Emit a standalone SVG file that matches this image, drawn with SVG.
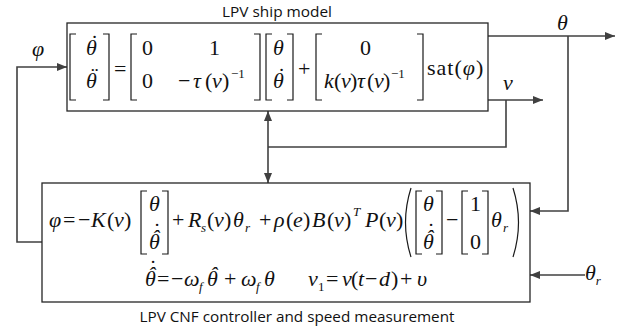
<svg xmlns="http://www.w3.org/2000/svg" width="628" height="333" viewBox="0 0 628 333">
<defs>
<style>
.box{fill:#fff;stroke:#262626;stroke-width:1.3}
.wire{fill:none;stroke:#404040;stroke-width:1.6}
.br{fill:none;stroke:#1a1a1a;stroke-width:1.2}
.m{font-family:"Liberation Serif","Times New Roman",serif;font-size:22px;fill:#111}
.i{font-style:italic}
.s{font-size:13px}
.cap{font-family:"Open Sans","Liberation Sans",sans-serif;font-size:14.5px;fill:#111;text-anchor:middle}
</style>
<marker id="ah" viewBox="0 0 10 8" refX="10" refY="4" markerWidth="10" markerHeight="8" markerUnits="userSpaceOnUse" orient="auto">
<path d="M0,0 L10,4 L0,8 z" fill="#404040"/>
</marker>
</defs>
<rect width="628" height="333" fill="#fff"/>

<g id="connectors">
<path class="wire" d="M42,242 H17 V67 H67" marker-end="url(#ah)"/>
<path class="wire" d="M488,36 H615" marker-end="url(#ah)"/>
<path class="wire" d="M568,36 V211 H530" marker-end="url(#ah)"/>
<path class="wire" d="M488,100 H543" marker-end="url(#ah)"/>
<path class="wire" d="M506,100 V147 H268"/>
<path class="wire" d="M268,147 V111" marker-end="url(#ah)"/>
<path class="wire" d="M268,147 V183" marker-end="url(#ah)"/>
<path class="wire" d="M585,275 H530" marker-end="url(#ah)"/>
<text class="m i" x="32" y="56">φ</text>
<text class="m i" x="557" y="30">θ</text>
<text class="m i" x="503" y="90">v</text>
<text class="m i" x="585" y="280">θ<tspan class="s" dy="5">r</tspan></text>
</g>

<g id="ship-model">
<rect class="box" x="67" y="23" width="421" height="88"/>
<text class="cap" x="277" y="17" textLength="110" lengthAdjust="spacingAndGlyphs">LPV ship model</text>
<path class="br" d="M76,34 H70 V100 H76 M103,34 H109 V100 H103"/>
<path class="br" d="M137,34 H131 V100 H137 M254,34 H260 V100 H254"/>
<path class="br" d="M272,34 H266 V100 H272 M287,34 H293 V100 H287"/>
<path class="br" d="M322,34 H316 V100 H322 M417,34 H423 V100 H417"/>
<text class="m"><tspan class="i" x="86" y="55">θ</tspan><tspan class="i" x="89.5" y="50">˙</tspan><tspan class="i" x="86" y="88">θ</tspan><tspan class="i" x="89.5" y="83">¨</tspan><tspan x="114" y="76">=</tspan><tspan x="142" y="55">0</tspan><tspan x="209" y="55">1</tspan><tspan x="142" y="88">0</tspan><tspan x="178" y="88">−</tspan><tspan class="i" x="193" y="88">τ</tspan><tspan x="205" y="88">(</tspan><tspan class="i" x="212" y="88">v</tspan><tspan x="222" y="88">)</tspan><tspan class="s" x="231" y="78">−1</tspan><tspan class="i" x="273" y="55">θ</tspan><tspan class="i" x="273" y="88">θ</tspan><tspan class="i" x="276.5" y="83">˙</tspan><tspan x="298" y="76">+</tspan><tspan x="360" y="55">0</tspan><tspan class="i" x="324" y="88">k</tspan><tspan x="334" y="88">(</tspan><tspan class="i" x="341" y="88">v</tspan><tspan x="350" y="88">)</tspan><tspan class="i" x="357" y="88">τ</tspan><tspan x="367" y="88">(</tspan><tspan class="i" x="374" y="88">v</tspan><tspan x="383" y="88">)</tspan><tspan class="s" x="391" y="78">−1</tspan><tspan x="427" y="75" letter-spacing="1">sat(</tspan><tspan class="i" letter-spacing="1">φ</tspan><tspan letter-spacing="1">)</tspan></text>
</g>

<g id="controller">
<rect class="box" x="42" y="183" width="488" height="119"/>
<text class="cap" x="297" y="322" textLength="315" lengthAdjust="spacingAndGlyphs">LPV CNF controller and speed measurement</text>
<path class="br" d="M147,191 H141 V254 H147 M162,191 H168 V254 H162"/>
<path class="br" d="M411,188 Q400,222.5 411,257"/>
<path class="br" d="M422,191 H416 V254 H422 M436,191 H442 V254 H436"/>
<path class="br" d="M468,191 H462 V254 H468 M482,191 H488 V254 H482"/>
<path class="br" d="M513,188 Q524,222.5 513,257"/>
<text class="m"><tspan class="i" x="49" y="227">φ</tspan><tspan x="63" y="227">=</tspan><tspan x="78" y="227">−</tspan><tspan class="i" x="91" y="227">K</tspan><tspan x="107" y="227">(</tspan><tspan class="i" x="114" y="227">v</tspan><tspan x="124" y="227">)</tspan><tspan class="i" x="149" y="211">θ</tspan><tspan class="i" x="149" y="249">θ</tspan><tspan class="i" x="152" y="245">ˆ</tspan><tspan class="i" x="152" y="238">˙</tspan><tspan x="172" y="227">+</tspan><tspan class="i" x="188" y="227">R</tspan><tspan class="i s" x="201" y="232">s</tspan><tspan x="207" y="227">(</tspan><tspan class="i" x="214" y="227">v</tspan><tspan x="224" y="227">)</tspan><tspan class="i" x="233" y="227">θ</tspan><tspan class="i s" x="245" y="232">r</tspan><tspan x="259" y="227">+</tspan><tspan class="i" x="274" y="227">ρ</tspan><tspan x="286" y="227">(</tspan><tspan class="i" x="293" y="227">e</tspan><tspan x="303" y="227">)</tspan><tspan class="i" x="312" y="227">B</tspan><tspan x="327" y="227">(</tspan><tspan class="i" x="334" y="227">v</tspan><tspan x="344" y="227">)</tspan><tspan class="i s" x="353" y="216">T</tspan><tspan class="i" x="365" y="227">P</tspan><tspan x="379" y="227">(</tspan><tspan class="i" x="386" y="227">v</tspan><tspan x="396" y="227">)</tspan><tspan class="i" x="423" y="211">θ</tspan><tspan class="i" x="423" y="249">θ</tspan><tspan class="i" x="426" y="245">ˆ</tspan><tspan class="i" x="426" y="238">˙</tspan><tspan x="446" y="227">−</tspan><tspan x="470" y="211">1</tspan><tspan x="470" y="249">0</tspan><tspan class="i" x="491" y="227">θ</tspan><tspan class="i s" x="503" y="232">r</tspan></text>
<text class="m"><tspan class="i" x="145" y="286">θ</tspan><tspan class="i" x="148" y="282">ˆ</tspan><tspan class="i" x="148" y="275">˙</tspan><tspan x="157" y="286">=</tspan><tspan x="171" y="286">−</tspan><tspan class="i" x="184" y="286">ω</tspan><tspan class="i s" x="199" y="291">f</tspan><tspan class="i" x="207" y="286">θ</tspan><tspan class="i" x="210" y="282">ˆ</tspan><tspan x="224" y="286">+</tspan><tspan class="i" x="241" y="286">ω</tspan><tspan class="i s" x="256" y="291">f</tspan><tspan class="i" x="264" y="286">θ</tspan><tspan class="i" x="308" y="286">v</tspan><tspan class="s" x="318" y="291">1</tspan><tspan x="326" y="286">=</tspan><tspan class="i" x="342" y="286">v</tspan><tspan x="351" y="286">(</tspan><tspan class="i" x="358" y="286">t</tspan><tspan x="365" y="286">−</tspan><tspan class="i" x="379" y="286">d</tspan><tspan x="391" y="286">)</tspan><tspan x="400" y="286">+</tspan><tspan class="i" x="417" y="286">υ</tspan></text>
</g>
</svg>
